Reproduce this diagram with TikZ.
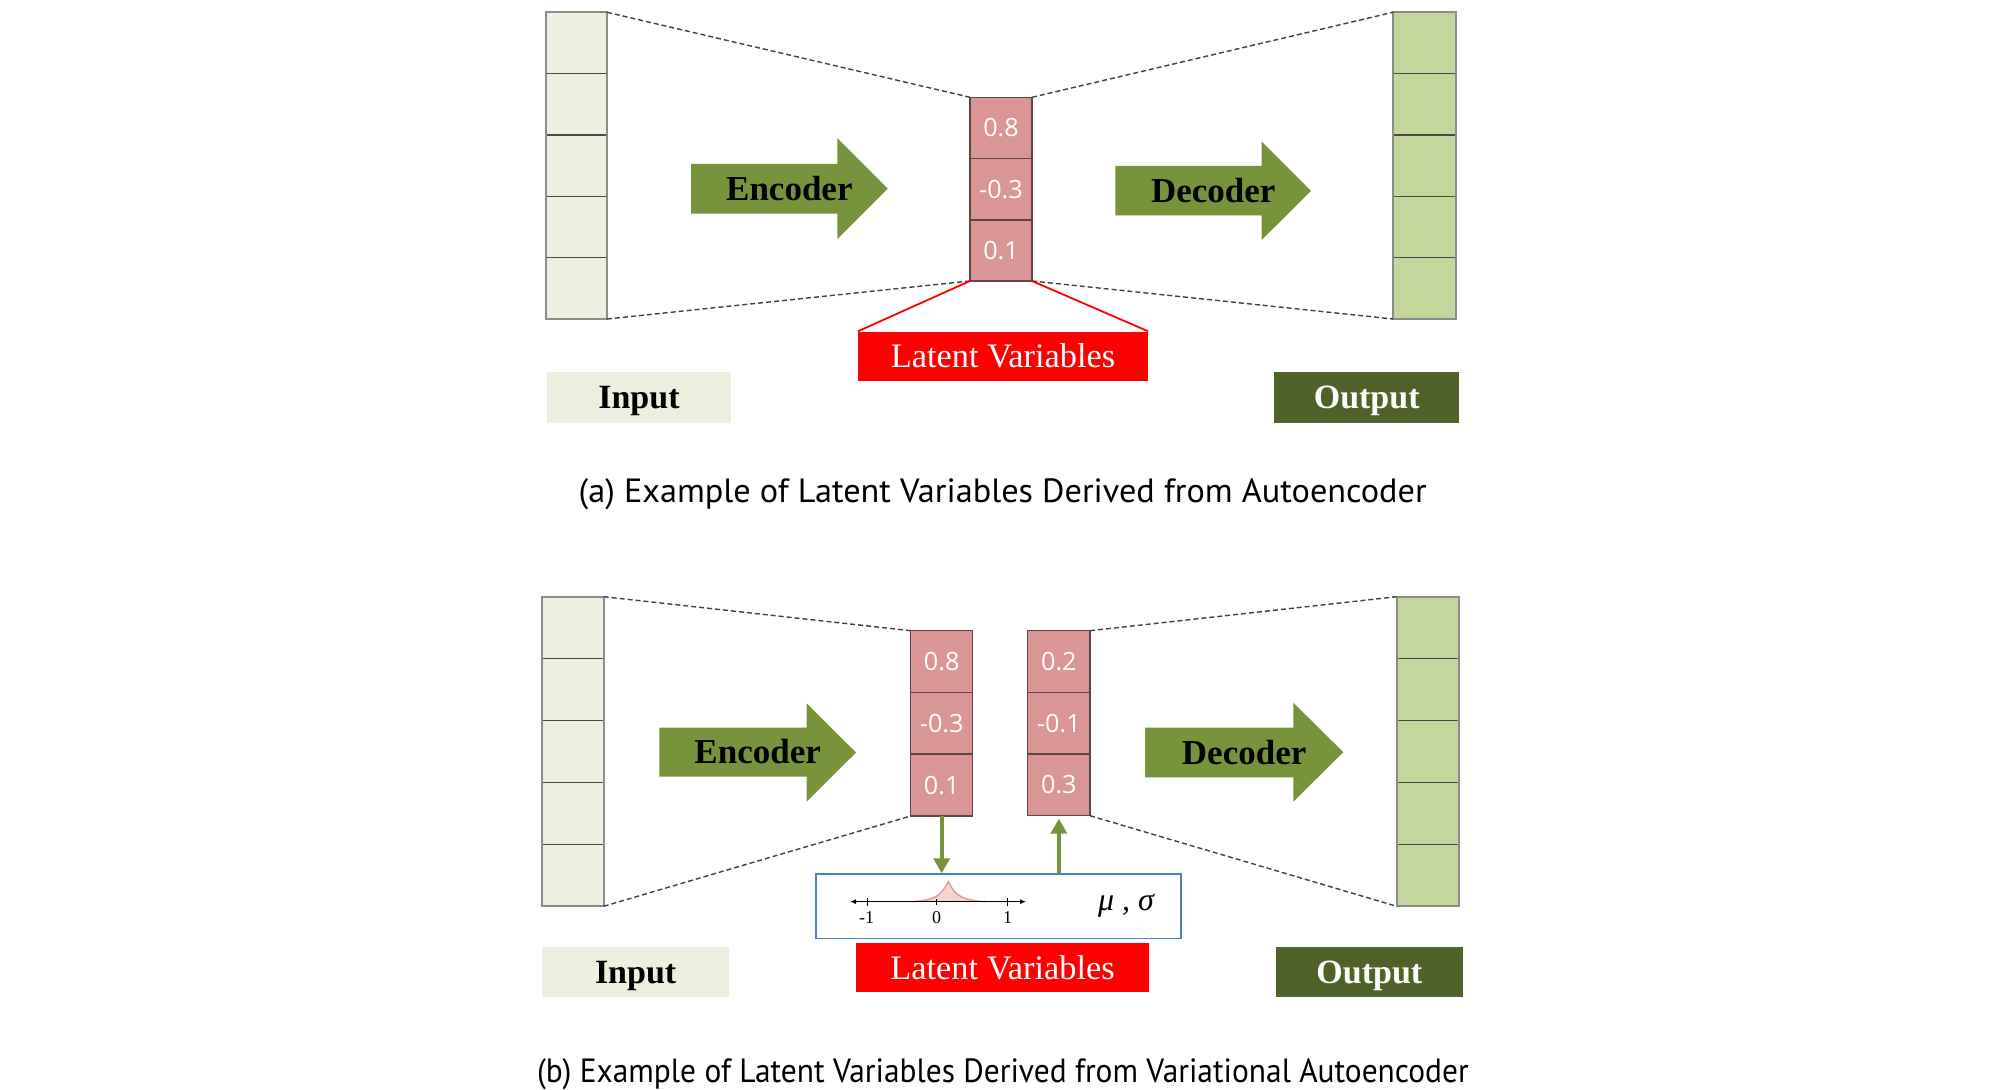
\documentclass[tikz,border=0pt]{standalone}
\usepackage{graphicx}
\usepackage{fontspec}
\setmainfont{Liberation Serif}
\newfontfamily\capfont{PT Sans}
\newfontfamily\numfont{Open Sans}
\usetikzlibrary{arrows.meta}
\newdimen\pxu \pxu=0.5pt
\definecolor{inpale}{HTML}{EBF1DE}
\definecolor{outgreen}{HTML}{C3D69B}
\definecolor{arrgreen}{HTML}{77933C}
\definecolor{latred}{HTML}{D99694}
\definecolor{darkgreen}{HTML}{4F6228}
\definecolor{boxblue}{HTML}{4F81BD}
\definecolor{celldark}{HTML}{4A4A4A}
\definecolor{framegray}{HTML}{8C8C8C}
\definecolor{latline}{HTML}{5E4646}
\definecolor{bumpfill}{HTML}{F2D4D3}
\definecolor{bumpline}{HTML}{E29A99}
\definecolor{dashgray}{HTML}{404040}
\begin{document}
\begin{tikzpicture}[x=0.5pt,y=-0.5pt,
  gcell/.style={draw=celldark, line width=0.6pt, inner sep=0pt, outer sep=0pt},
  frame/.style={draw=framegray, line width=0.9pt},
  lcell/.style={draw=latline, line width=0.75pt, fill=latred, inner sep=0pt, outer sep=0pt,
    text=white, font=\numfont\fontsize{12.6}{14}\selectfont, text height=9pt, text depth=0pt},
  arrlabel/.style={inner sep=0pt, font=\fontsize{17.5}{20}\selectfont\bfseries, text height=11.6pt, text depth=0pt},
  lvbox/.style={fill=red, inner sep=0pt, text=white, font=\fontsize{17.2}{19}\selectfont, text height=11.4pt, text depth=0pt},
  inlabel/.style={fill=inpale, inner sep=0pt, font=\fontsize{17}{20}\selectfont\bfseries, text height=11.3pt, text depth=0pt},
  outlabel/.style={fill=darkgreen, text=white, inner sep=0pt, font=\fontsize{17}{20}\selectfont\bfseries, text height=11.3pt, text depth=0pt},
  dashedline/.style={draw=dashgray, line width=0.7pt, dash pattern=on 2.5pt off 1.5pt},
  redline/.style={draw=red, line width=0.9pt},
  garrow/.style={draw=arrgreen, line width=2pt, -{Triangle[width=8pt,length=7.5pt]}},
  capt/.style={inner sep=0pt, font=\capfont\fontsize{16.8}{19}\selectfont},
  ticklab/.style={inner sep=0pt, font=\fontsize{9}{10}\selectfont, text height=6pt, text depth=0pt, anchor=north}
]
\fill[white] (0,0) rectangle (2008,1090);
\useasboundingbox (0,0) rectangle (2008,1090);

%%%%%%%%%%%%%%%% (a)
\foreach \i in {1,...,5}
  \node[gcell, fill=inpale, minimum width=61\pxu, minimum height=61.34\pxu] (ai\i) at (576.5,{12.3+61.34*(\i-0.5)}) {};
\draw[frame] (ai1.north west) rectangle (ai5.south east);
\foreach \i in {1,...,5}
  \node[gcell, fill=outgreen, minimum width=63\pxu, minimum height=61.34\pxu] (ao\i) at (1424.5,{12.3+61.34*(\i-0.5)}) {};
\draw[frame] (ao1.north west) rectangle (ao5.south east);
\foreach \i/\v in {1/0.8,2/-0.3,3/0.1}
  \node[lcell, minimum width=62\pxu, minimum height=61.23\pxu] (al\i) at (1001,{97.3+61.23*(\i-0.5)}) {\v};

\draw[dashedline] (ai1.north east) -- (al1.north west);
\draw[dashedline] (ai5.south east) -- (al3.south west);
\draw[dashedline] (al1.north east) -- (ao1.north west);
\draw[dashedline] (al3.south east) -- (ao5.south west);

\fill[arrgreen] (691,164) -- (837.3,164) -- (837.3,138.3) -- (887.7,188.65) -- (837.3,239) -- (837.3,213.7) -- (691,213.7) -- cycle;
\node[arrlabel] (aenc) at (789.35,188.9) {Encoder};
\fill[arrgreen] (1115.3,166) -- (1261.7,166) -- (1261.7,141.7) -- (1311,190.85) -- (1261.7,240) -- (1261.7,215.3) -- (1115.3,215.3) -- cycle;
\node[arrlabel] (adec) at (1213.2,190.85) {Decoder};

\node[lvbox, minimum width=289.4\pxu, minimum height=49\pxu] (alv) at (1003,356.2) {Latent Variables};
\draw[redline] (al3.south west) -- (alv.north west);
\draw[redline] (al3.south east) -- (alv.north east);

\node[inlabel, minimum width=184.6\pxu, minimum height=50.4\pxu] (ain) at (639,397.5) {Input};
\node[outlabel, minimum width=184.7\pxu, minimum height=50.4\pxu] (aout) at (1366.7,397.5) {Output};

\node[capt, anchor=base west] (capa) at (578.3,503) {\resizebox{424pt}{\height}{(a) Example of Latent Variables Derived from Autoencoder}};

%%%%%%%%%%%%%%%% (b)
\foreach \i in {1,...,5}
  \node[gcell, fill=inpale, minimum width=62\pxu, minimum height=61.92\pxu] (bi\i) at (572.7,{596.7+61.92*(\i-0.5)}) {};
\draw[frame] (bi1.north west) rectangle (bi5.south east);
\foreach \i in {1,...,5}
  \node[gcell, fill=outgreen, minimum width=62.6\pxu, minimum height=61.92\pxu] (bo\i) at (1428,{596.7+61.92*(\i-0.5)}) {};
\draw[frame] (bo1.north west) rectangle (bo5.south east);
\foreach \i/\v in {1/0.8,2/-0.3,3/0.1}
  \node[lcell, minimum width=62\pxu, minimum height=61.77\pxu] (bl\i) at (941.7,{630.7+61.77*(\i-0.5)}) {\v};
\foreach \i/\v in {1/0.2,2/-0.1,3/0.3}
  \node[lcell, minimum width=62.3\pxu, minimum height=61.67\pxu] (bm\i) at (1058.85,{630.7+61.67*(\i-0.5)}) {\v};

\draw[dashedline] (bi1.north east) -- (bl1.north west);
\draw[dashedline] (bi5.south east) -- (bl3.south west);
\draw[dashedline] (bm1.north east) -- (bo1.north west);
\draw[dashedline] (bm3.south east) -- (bo5.south west);

\fill[arrgreen] (659.3,727.7) -- (806.7,727.7) -- (806.7,703.3) -- (856,752.5) -- (806.7,801.7) -- (806.7,776.7) -- (659.3,776.7) -- cycle;
\node[arrlabel] (benc) at (757.65,752.2) {Encoder};
\fill[arrgreen] (1145,727.7) -- (1293.3,727.7) -- (1293.3,702.7) -- (1343.3,752.2) -- (1293.3,801.7) -- (1293.3,777.3) -- (1145,777.3) -- cycle;
\node[arrlabel] (bdec) at (1244.15,752.5) {Decoder};

\node[draw=boxblue, line width=0.75pt, minimum width=365\pxu, minimum height=64.3\pxu, inner sep=0pt] (dist) at (998.5,906.15) {};
\draw[garrow] (bl3.south) -- (bl3.south |- dist.north);
\draw[garrow] (bm3.south |- dist.north) -- ([yshift=-1.5pt]bm3.south);

% distribution
\coordinate (axl) at (850,901.7);
\coordinate (axr) at (1026,901.7);
\fill[bumpfill] (911.7,901.7) .. controls (935,900) and (941,896) .. (948.3,881.7) .. controls (955.5,896) and (962,900) .. (985,901.7) -- cycle;
\draw[bumpline, line width=0.7pt] (911.7,901.7) .. controls (935,900) and (941,896) .. (948.3,881.7) .. controls (955.5,896) and (962,900) .. (985,901.7);
\draw[black, line width=0.6pt, {Latex[length=3pt,width=2.5pt]}-{Latex[length=3pt,width=2.5pt]}] (axl) -- (axr);
\draw[black, line width=0.6pt] (867.3,897.5) -- (867.3,906) (1007.7,897.5) -- (1007.7,906) (936.7,899) -- (936.7,905);
\node[ticklab] (tm1) at (866.7,911.5) {-1};
\node[ticklab] (t0) at (936.7,911.5) {0};
\node[ticklab] (t1) at (1007.7,911.5) {1};
\node[inner sep=0pt, anchor=base, font=\fontsize{16}{18}\selectfont\itshape] (musig) at (1126,910) {μ , σ};

\node[lvbox, minimum width=293\pxu, minimum height=49\pxu] (blv) at (1002.5,967.8) {Latent Variables};
\node[inlabel, minimum width=186.7\pxu, minimum height=49.4\pxu] (bin) at (635.65,972) {Input};
\node[outlabel, minimum width=186.7\pxu, minimum height=50\pxu] (bout) at (1369.35,971.7) {Output};

\node[capt, anchor=base west] (capb) at (536.7,1082) {\resizebox{465.8pt}{\height}{(b) Example of Latent Variables Derived from Variational Autoencoder}};
\end{tikzpicture}
\end{document}
